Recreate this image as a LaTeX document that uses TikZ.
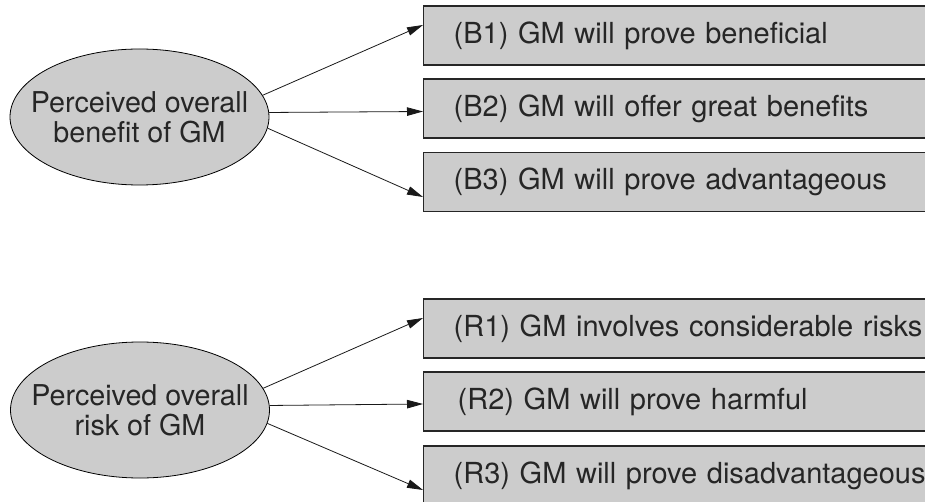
\documentclass[tikz,border=0pt]{standalone}
\usepackage{fontspec}
\setmainfont{TeX Gyre Heros}
\usetikzlibrary{shapes.geometric,arrows.meta}
\begin{document}
\begin{tikzpicture}[x=1pt,y=-1pt,
  construct/.style={ellipse,draw=black,line width=0.8pt,fill=black!20,minimum width=259pt,minimum height=136pt,inner xsep=-25pt,inner ysep=0pt,align=center,font=\fontsize{28.7}{30}\selectfont,text=black!85},
  itembox/.style={rectangle,draw=black!85,line width=1.3pt,fill=black!20,minimum width=540pt,minimum height=59pt,text width=480pt,inner xsep=30pt,align=left,anchor=west,font=\fontsize{29}{32}\selectfont,text=black!85},
  link/.style={line width=0.8pt,draw=black!90,-{Triangle[length=16pt,width=8.5pt]}}]
\useasboundingbox (0,0) rectangle (925,502);
\clip (0,0) rectangle (925,502);
\node[construct] (e1) at (139.5,117) {Perceived overall\\benefit of GM};
\node[construct] (e2) at (140,410) {Perceived overall\\risk of GM};
\node[itembox] (b1) at (423,35.5) {(B1) GM will prove beneficial};
\node[itembox] (b2) at (423,108.5) {(B2) GM will offer great benefits};
\node[itembox] (b3) at (423,182) {(B3) GM will prove advantageous};
\node[itembox] (r1) at (423,328.5) {(R1) GM involves considerable risks};
\node[itembox] (r2) at (423,401.5) {\hspace*{4pt}(R2) GM will prove harmful};
\node[itembox] (r3) at (423,475.5) {(R3) GM will prove disadvantageous};
\draw[link] (e1.10.4) -- ([yshift=10.5pt]b1.west);
\draw[link] (e1.2.4) -- ([yshift=-3pt]b2.west);
\draw[link] (e1.-5.8) -- ([yshift=-15pt]b3.west);
\draw[link] (e2.10) -- ([yshift=10.5pt]r1.west);
\draw[link] (e2.2.6) -- ([yshift=-2.5pt]r2.west);
\draw[link] (e2.-6) -- ([yshift=-14.5pt]r3.west);
\end{tikzpicture}
\end{document}
